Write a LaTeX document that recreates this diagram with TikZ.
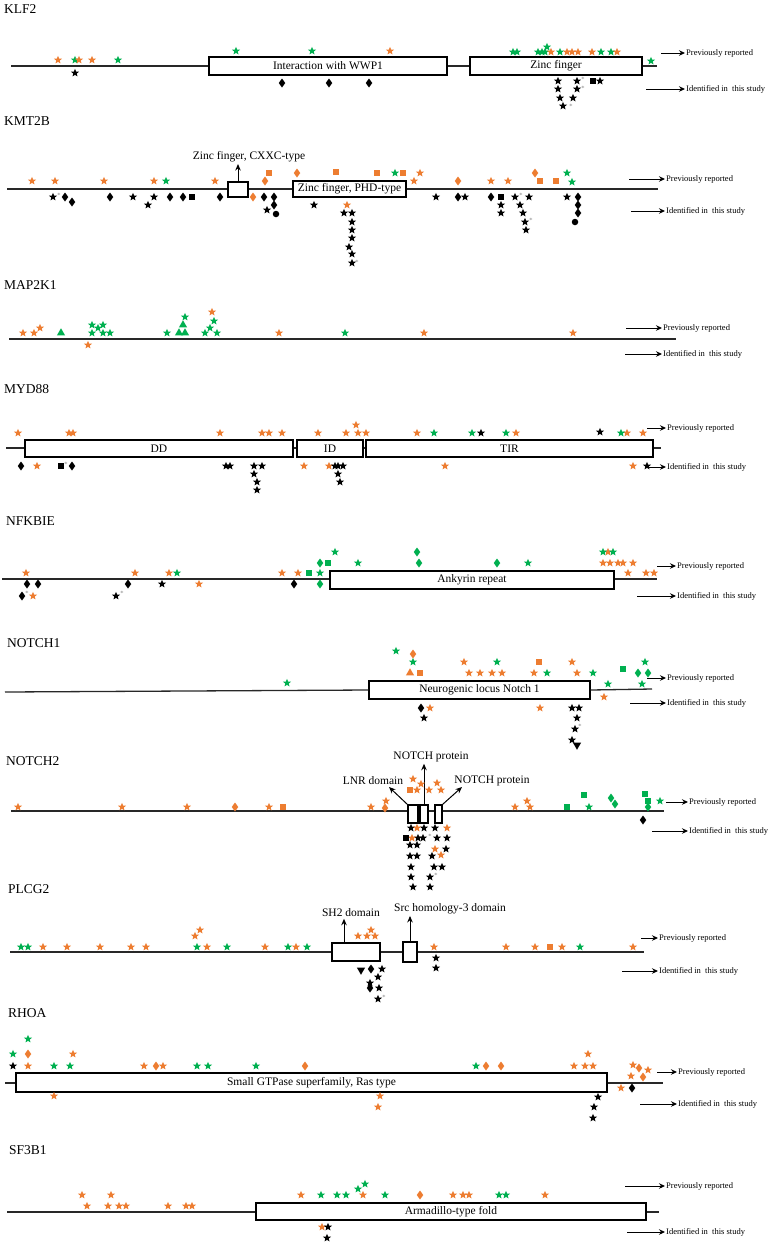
\documentclass[tikz,border=0pt]{standalone}
\usepackage{fontspec}
\setmainfont{Liberation Serif}
\usetikzlibrary{shapes.geometric,arrows.meta}
\definecolor{orng}{RGB}{237,125,49}
\definecolor{grn}{RGB}{0,176,80}
\definecolor{lnc}{RGB}{40,40,40}
\tikzset{
  mk/.style={inner sep=0pt, outer sep=0pt, draw=none},
  st/.style={mk, star, star points=5, star point ratio=2.3, minimum size=8.5pt},
  os/.style={st, fill=orng}, gs/.style={st, fill=grn}, ks/.style={st, fill=black},
  dm/.style={mk, diamond, minimum width=6.5pt, minimum height=9pt},
  od/.style={dm, fill=orng}, gd/.style={dm, fill=grn}, kd/.style={dm, fill=black},
  sq/.style={mk, rectangle, minimum size=6pt},
  osq/.style={sq, fill=orng}, gsq/.style={sq, fill=grn}, ksq/.style={sq, fill=black},
  tri/.style={mk, regular polygon, regular polygon sides=3, minimum size=9.5pt},
  otr/.style={tri, fill=orng}, gtr/.style={tri, fill=grn},
  kitr/.style={tri, fill=black, shape border rotate=180},
  kc/.style={mk, circle, minimum size=6.5pt, fill=black},
  astx/.style={inner sep=0pt, font=\fontsize{6.5}{6.5}\selectfont, text=gray},
  bb/.style={line width=1.3pt, draw=lnc},
  dom/.style={draw=black, line width=1.3pt, fill=white, inner sep=0pt, font=\fontsize{11.5}{13}\selectfont},
  ttl/.style={anchor=west, inner sep=0pt, font=\fontsize{13.5}{15}\selectfont},
  lab/.style={inner sep=1.5pt, font=\fontsize{11.5}{13}\selectfont},
  leg/.style={anchor=west, inner sep=1pt, font=\fontsize{8.5}{10}\selectfont},
  legarr/.style={-{Stealth[length=6pt,width=5.5pt]}, line width=0.9pt},
  darr/.style={-{Stealth[length=6.5pt,width=5.5pt]}, line width=1pt},
}
\newcommand\rowm[3]{\foreach \xx in {#3} \node[#1] at (\xx,#2) {};}
\newcommand\pts[2]{\foreach \xx/\yy in {#2} \node[#1] at (\xx,\yy) {};}
\newcommand\asx[2]{\node[astx] at (#1,#2) {*};}
\newcommand\legend[6]{%
  \coordinate (#1a) at (#2,#3);
  \node[leg] (#1b) at (#4,#3) {Previously reported};
  \draw[legarr] (#1a) -- (#1b.west);
  \coordinate (#1c) at (#5,#6);
  \node[leg] (#1d) at (#4,#6) {Identified in~ this study};
  \draw[legarr] (#1c) -- (#1d.west);
}
\begin{document}
\begin{tikzpicture}[x=1pt,y=-1pt]
\useasboundingbox (0,0) rectangle (768,1243);

% ================= KLF2
\node[ttl] (tklf) at (4,9) {KLF2};
\draw[bb] (11,66) -- (657,66);
\node[dom, minimum width=238pt, minimum height=18pt] (klfa) at (328,66) {Interaction with WWP1};
\node[dom, minimum width=172pt, minimum height=18pt] (klfb) at (556,66) {Zinc finger};
\pts{gs}{75/60, 118/60, 236/51, 312/51, 513/52, 517/52, 538/52, 542/52, 545/52, 547/47, 560/52, 601/52, 611/52, 651/61}
\pts{os}{58/60, 79/60, 92/60, 390/51, 551/52, 567/52, 572/52, 578/52, 592/52, 617/52}
\pts{ks}{75/73, 558/81, 558/89, 560/98, 563/106, 577/81, 577/89, 573/98, 600/81}
\pts{kd}{282/83, 329/83, 369/83}
\pts{ksq}{593/81}
\asx{571}{106}\asx{583}{79}\asx{583}{88}
\legend{lk}{661}{53}{685}{646}{89}

% ================= KMT2B
\node[ttl] (tkmt) at (4,121) {KMT2B};
\draw[bb] (7,189) -- (658,189);
\node[dom, minimum width=20pt, minimum height=15pt] (cxxc) at (238,189.5) {};
\node[lab] (cxxcl) at (249,157) {Zinc finger, CXXC-type};
\draw[darr] (cxxc.north) -- (cxxc.north |- cxxcl.south);
\node[dom, minimum width=113pt, minimum height=16pt] (phd) at (349.5,189) {Zinc finger, PHD-type};
\rowm{os}{181}{32, 55, 104, 154, 215, 414, 491, 508}
\pts{os}{420/173, 347/205}
\pts{gs}{166/181, 395/173, 567/173, 572/182}
\pts{od}{265/181, 458/181, 297/173, 535/173, 253/197}
\pts{osq}{540/181, 556/181, 269/173, 336/172, 377/173, 403/173}
\pts{ks}{53/197, 133/197, 154/197, 148/205, 267/210, 314/205, 344/213, 352/213, 352/222, 352/230, 352/238, 349/247, 352/254, 352/263, 436/197, 465/197, 501/205, 501/213, 515/197, 529/197, 520/205, 523/213, 525/222, 526/230, 567/197}
\pts{kd}{65/197, 72/202, 110/197, 170/197, 183/197, 220/197, 264/197, 274/197, 274/205, 458/197, 491/197, 578/197, 578/205, 578/213}
\pts{ksq}{192/197, 501/197}
\pts{kc}{276/214, 575/222}
\asx{59}{195}\asx{357}{262}\asx{521}{195}\asx{531}{220}
\legend{lm}{629}{179}{665}{631}{211}

% ================= MAP2K1
\node[ttl] (tmap) at (4,285) {MAP2K1};
\draw[bb] (9,339) -- (676,339);
\pts{gs}{92/333, 92/325, 98/328, 103/325, 103/333, 110/333, 167/333, 185/317, 205/333, 210/328, 217/333, 214/321, 345/333}
\pts{gtr}{61/333, 179/333, 185/333, 183/325}
\pts{os}{23/333, 34/333, 40/328, 88/345, 212/312, 279/333, 424/333, 573/333}
\legend{lp}{626}{328}{662}{625}{354}

% ================= MYD88
\node[ttl] (tmyd) at (4,389.5) {MYD88};
\draw[bb] (6,448) -- (661,448);
\node[dom, minimum width=268pt, minimum height=17pt] (dd) at (159,448.5) {DD};
\node[dom, minimum width=66pt, minimum height=17pt] (idd) at (330,448.5) {ID};
\node[dom, minimum width=287pt, minimum height=17pt] (tir) at (509.5,448.5) {TIR};
\rowm{os}{433}{18, 69, 73, 220, 262, 269, 282, 318, 346, 358, 366, 417, 516, 627, 643}
\pts{os}{356/425}
\rowm{gs}{433}{434, 472, 506, 621}
\pts{ks}{481/433, 600/432}
\rowm{kd}{466}{21, 72}
\rowm{os}{466}{37, 304, 329, 445, 633}
\pts{ksq}{61/466}
\rowm{ks}{466}{226, 230, 254, 262, 335, 338, 343, 647}
\pts{ks}{254/474, 257/482, 257/490, 338/474, 340/482}
\asx{66}{464}
\legend{ly}{647}{428}{666}{647}{467}

% ================= NFKBIE
\node[ttl] (tnfk) at (6,521) {NFKBIE};
\draw[bb] (2,579) -- (657,579);
\node[dom, minimum width=284pt, minimum height=18pt] (ank) at (472,580) {Ankyrin repeat};
\rowm{os}{573}{26, 135, 169, 282, 298, 628, 646, 654}
\rowm{os}{563}{603, 610, 618, 623, 633}
\pts{os}{608/552, 199/584, 33/596}
\pts{gs}{177/573, 320/573, 358/563, 528/563, 335/552, 603/552, 613/552}
\pts{gsq}{309/573, 328/563}
\pts{gd}{320/563, 419/563, 497/563, 417/552, 320/584}
\pts{kd}{27/584, 38/584, 128/584, 294/584, 22/596}
\pts{ks}{162/584, 116/596}
\asx{27}{593}\asx{122}{593}
\legend{ln}{657}{566}{676}{637}{596}

% ================= NOTCH1
\node[ttl] (tn1) at (7,643) {NOTCH1};
\node[dom, minimum width=221pt, minimum height=18pt] (nl) at (479.5,690) {Neurogenic locus Notch 1};
\coordinate (n1s) at (5,692);
\coordinate (n1e) at (652,689);
\draw[bb] (n1s) -- (nl.west);
\draw[bb] (nl.east) -- (n1e);
\pts{gs}{396/651, 413/662, 497/662, 645/662, 547/673, 593/673, 608/684, 642/684, 287/683}
\pts{od}{413/654}
\pts{os}{464/662, 572/662, 469/673, 480/673, 492/673, 502/673, 534/673, 577/673, 604/697, 430/708, 540/708}
\pts{osq}{539/662, 420/673}
\pts{otr}{410/673}
\pts{gsq}{623/669}
\pts{gd}{638/673, 648/673}
\pts{kd}{421/708}
\pts{ks}{572/708, 579/708, 424/718, 577/718, 575/729, 572/740}
\pts{kitr}{577/745}
\asx{580}{726}
\legend{lo}{647}{678}{666}{630}{703}

% ================= NOTCH2
\node[ttl] (tn2) at (6,761.5) {NOTCH2};
\draw[bb] (11,811) -- (664,811);
\node[dom, minimum width=10pt, minimum height=18pt] (nb1) at (413,814) {};
\node[dom, minimum width=8pt, minimum height=18pt] (nb2) at (424,814) {};
\node[dom, minimum width=7pt, minimum height=18pt] (nb3) at (438.5,814) {};
\node[lab] (np1) at (431,757) {NOTCH protein};
\node[lab] (lnr) at (373,781) {LNR domain};
\node[lab] (np2) at (492,781) {NOTCH protein};
\coordinate (lnrt) at (389,787);
\coordinate (np2t) at (462,787);
\draw[darr] (nb2.north) -- (nb2.north |- np1.south);
\draw[darr] (nb1.north west) -- (lnrt);
\draw[darr] (nb3.north east) -- (np2t);
\pts{os}{18/807, 122/807, 187/807, 269/807, 371/807, 386/801, 515/807, 530/807, 527/801, 413/779, 421/784, 417/790, 429/790, 437/783, 441/790}
\pts{od}{235/807, 385/808}
\pts{osq}{283/807, 410/790}
\pts{gsq}{567/807, 584/795, 648/801, 645/794}
\pts{gs}{589/807, 660/801}
\pts{gd}{611/798, 615/804, 648/807}
\pts{kd}{643/820}
\pts{ks}{411/828, 424/828, 435/828, 418/838, 423/838, 437/838, 447/838, 410/845, 417/845, 446/849, 410/856, 417/856, 432/856, 411/867, 434/867, 442/867, 411/877, 430/877, 413/887, 430/887}
\pts{os}{417/828, 447/828, 412/838, 435/849, 441/855}
\pts{ksq}{406/838}
\asx{430}{836}\asx{436}{875}
\legend{lq}{666}{802}{688}{652}{831}

% ================= PLCG2
\node[ttl] (tpl) at (8,889) {PLCG2};
\draw[bb] (10,952) -- (644,952);
\node[dom, minimum width=48pt, minimum height=18pt] (sh2) at (356,952) {};
\node[dom, minimum width=14pt, minimum height=20pt] (sh3) at (410,952) {};
\node[lab] (sh2l) at (351,913) {SH2 domain};
\node[lab] (sh3l) at (450,909) {Src homology-3 domain};
\draw[darr] ([xshift=-12pt]sh2.north) -- ([xshift=-12pt]sh2.north |- sh2l.south);
\draw[darr] (sh3.north) -- (sh3.north |- sh3l.south);
\rowm{os}{947}{43, 67, 100, 131, 146, 207, 265, 296, 434, 506, 535, 562, 633}
\pts{os}{195/936, 200/930, 358/936, 367/936, 375/936, 371/930}
\rowm{gs}{947}{21, 28, 197, 227, 288, 307, 580}
\pts{osq}{550/947}
\pts{ks}{436/958, 436/968, 382/969, 378/977, 370/983, 379/988, 378/999}
\pts{kd}{371/969, 370/988}
\pts{kitr}{361/970}
\asx{384}{997}
\legend{lr}{641}{938}{658}{622}{971}

% ================= RHOA
\node[ttl] (trh) at (8,1013) {RHOA};
\draw[bb] (5,1083) -- (663,1083);
\node[dom, minimum width=591pt, minimum height=19pt] (ras) at (311.5,1082.5) {Small GTPase superfamily, Ras type};
\pts{gs}{54/1066, 70/1066, 197/1066, 208/1066, 256/1066, 476/1066, 13/1054, 28/1039}
\pts{os}{28/1066, 144/1066, 163/1066, 574/1066, 585/1066, 593/1066, 73/1054, 588/1054, 633/1065, 648/1070, 631/1076, 621/1088, 54/1096, 380/1096, 378/1107}
\pts{ks}{13/1066, 598/1097, 594/1107, 593/1118}
\pts{od}{156/1066, 305/1066, 486/1066, 501/1066, 28/1054, 639/1068, 643/1077}
\pts{kd}{632/1088}
\legend{ls}{657}{1072}{677}{640}{1104}

% ================= SF3B1
\node[ttl] (tsf) at (9,1150) {SF3B1};
\draw[bb] (7,1212) -- (659,1212);
\node[dom, minimum width=390pt, minimum height=17pt] (arm) at (451,1211.5) {Armadillo-type fold};
\pts{os}{87/1206, 108/1206, 119/1206, 126/1206, 168/1206, 186/1206, 192/1206, 82/1195, 111/1195, 301/1195, 363/1195, 453/1195, 463/1195, 469/1195, 545/1195, 322/1227}
\pts{gs}{321/1195, 337/1195, 346/1195, 385/1195, 499/1195, 506/1195, 358/1189, 365/1184}
\pts{od}{420/1195}
\pts{ks}{328/1227, 327/1238}
\legend{lt}{625}{1186}{665}{627}{1232}
\end{tikzpicture}
\end{document}
